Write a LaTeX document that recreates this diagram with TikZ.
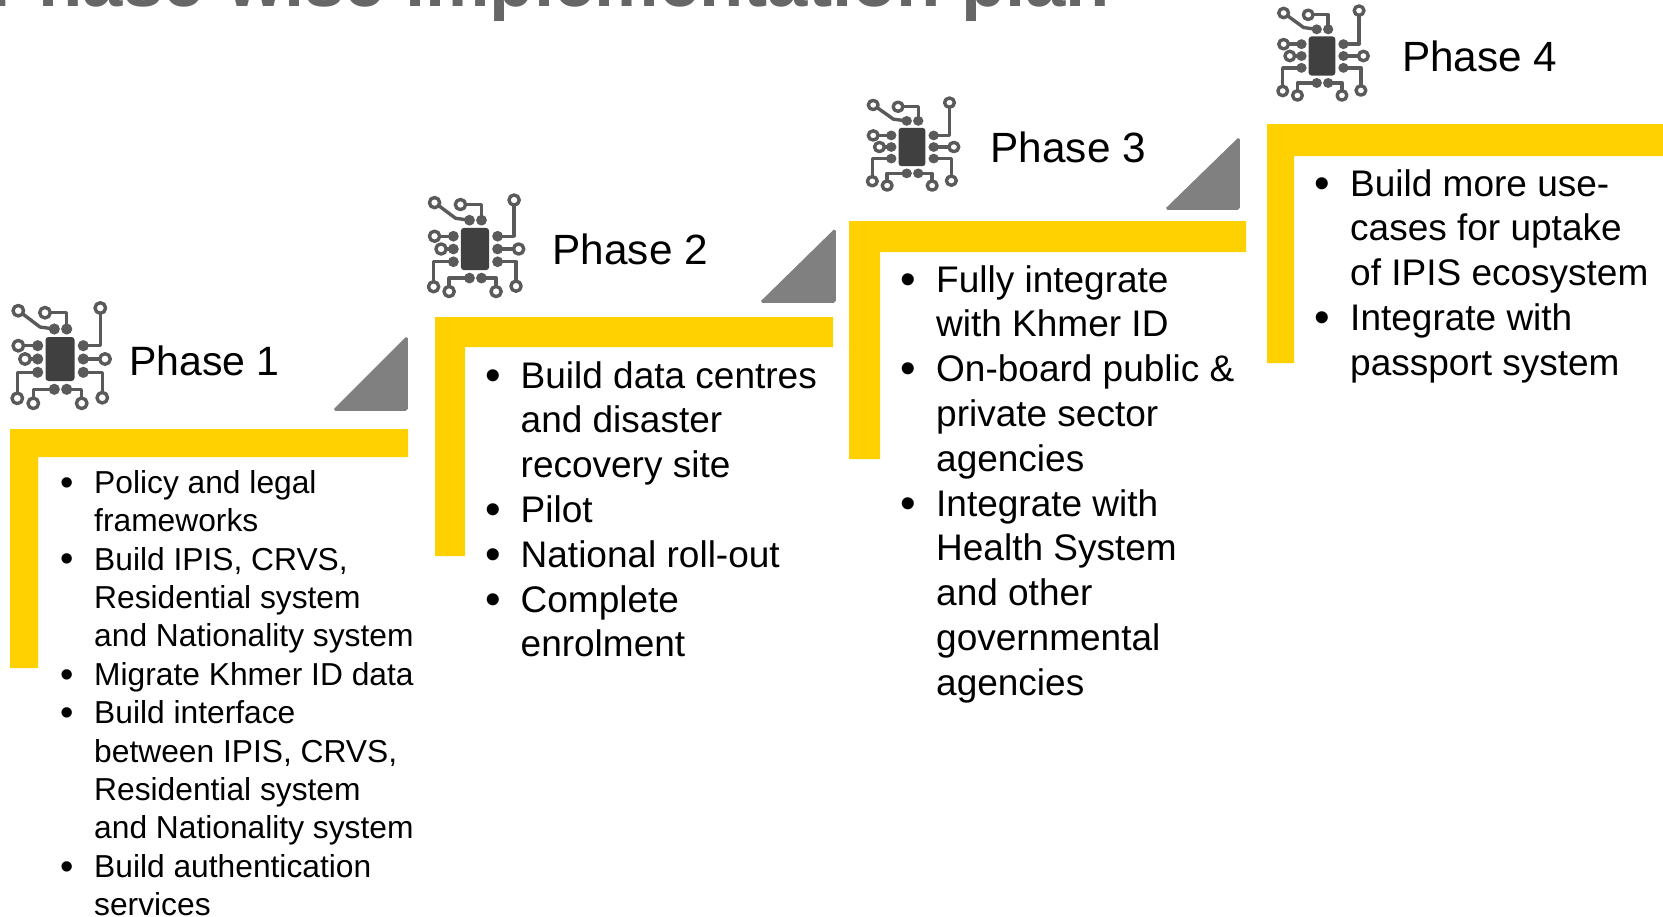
\documentclass[tikz,border=0pt]{standalone}
\usepackage{fontspec}
\setmainfont{Liberation Sans}
\definecolor{phaseyellow}{HTML}{FFD100}
\definecolor{wedgegrey}{HTML}{808080}
\definecolor{chipgrey}{HTML}{404040}
\definecolor{tracegrey}{HTML}{5A5A5A}
\definecolor{titlegrey}{HTML}{666666}
\newcommand{\bulletmark}{\llap{\raisebox{-.06em}{\scalebox{1.2}{\textbullet}}\hspace{20pt}}}
\tikzset{
	phasebar/.style={fill=phaseyellow, draw=none},
	wedge/.style={fill=wedgegrey, draw=wedgegrey, line width=1.5pt, rounded corners=1.5pt},
	phaselabel/.style={anchor=west, inner sep=0pt, font=\fontsize{42.3}{42.3}\selectfont},
	smalllist/.style={anchor=north west, inner sep=0pt, align=left, font=\fontsize{31.75}{38.4}\selectfont},
	biglist/.style={anchor=north west, inner sep=0pt, align=left, font=\fontsize{37}{44.8}\selectfont},
	trace/.style={draw=tracegrey, line width=3.4pt, line join=round},
	chipicon/.pic={
		\fill[chipgrey, rounded corners=3pt] (-14.5,-22) rectangle (14.5,22);
		\draw[trace] (-37.8,-45.5) -- (-20,-32) -- (-5.7,-30);
		\draw[trace] (-10.5,-46.3) -- (6.7,-46.3) -- (6.7,-30);
		\draw[trace] (40.3,-46.5) -- (40.3,-13.3) -- (23.3,-13.3);
		\draw[trace] (-37.2,-13.3) -- (-22.3,-13.3);
		\draw[trace] (-30.5,0) -- (-22.3,0);
		\draw[trace] (40.5,0) -- (23.3,0);
		\draw[trace] (-22.3,13.3) -- (-42.7,13.3) -- (-42.7,34.8);
		\draw[trace] (23.3,13.3) -- (42.3,13.3) -- (42.3,34.2);
		\draw[trace] (-5.7,30.3) -- (-26.7,30.3) -- (-26.7,39.8);
		\draw[trace] (6.7,30.3) -- (21.7,30.3) -- (21.7,39.8);
		% pads on the chip side
		\foreach \px/\py in {-5.7/-30, 6.7/-30, 23.3/-13.3, -22.3/-13.3, -22.3/0, 23.3/0, -22.3/13.3, 23.3/13.3, -5.7/30.3, 6.7/30.3}
			\fill[tracegrey] (\px,\py) circle (5.6);
		% rings at the free ends
		\foreach \px/\py in {-41.7/-48.3, -15/-46.3, 40.3/-51, -41.7/-13.3, -35/0, 45/0, -42.7/39.3, 42.3/38.7, -26.7/44.3, 21.7/44.3}
			\draw[trace] (\px,\py) circle (5.3);
	}
}
\begin{document}
\begin{tikzpicture}[x=1pt, y=-1pt]
	\useasboundingbox (0,0) rectangle (1663,916);
	\clip (0,0) rectangle (1663,916);
	\node[anchor=base west, inner sep=0pt, text=titlegrey, font=\fontsize{72.5}{72.5}\selectfont\bfseries] (title) at (-10,6) {Phase-wise implementation plan};

	% phase 1
	\fill[phasebar] (10,429) -- (408,429) -- (408,457) -- (38,457) -- (38,668) -- (10,668) -- cycle;
	\fill[wedge] (334,410) -- (407,410) -- (407,337) -- cycle;
	\pic at (60,359) {chipicon};
	\node[phaselabel, font=\fontsize{41}{41}\selectfont] (phase1) at (129,361) {Phase 1};
	\node[smalllist] (list1) at (94,470) {\bulletmark Policy and legal\\frameworks\\\bulletmark Build IPIS, CRVS,\\Residential system\\and Nationality system\\\bulletmark Migrate Khmer ID data\\\bulletmark Build interface\\between IPIS, CRVS,\\Residential system\\and Nationality system\\\bulletmark Build authentication\\services};

	% phase 2
	\fill[phasebar] (435,317) -- (833,317) -- (833,347) -- (465,347) -- (465,556) -- (435,556) -- cycle;
	\fill[wedge] (761,302) -- (835,302) -- (835,229.5) -- cycle;
	\pic[xscale=.97, yscale=.96] at (475,249) {chipicon};
	\node[phaselabel] (phase2) at (552.5,249) {Phase 2};
	\node[biglist] (list2) at (520.5,361) {\bulletmark Build data centres\\and disaster\\recovery site\\\bulletmark Pilot\\\bulletmark National roll-out\\\bulletmark Complete\\enrolment};

	% phase 3
	\fill[phasebar] (849,221) -- (1246,221) -- (1246,252) -- (880,252) -- (880,459) -- (849,459) -- cycle;
	\fill[wedge] (1166,209) -- (1239,209) -- (1239,138) -- cycle;
	\pic[xscale=.93, yscale=.87] at (912,147) {chipicon};
	\node[phaselabel] (phase3) at (990.5,147) {Phase 3};
	\node[biglist] (list3) at (936,265) {\bulletmark Fully integrate\\with Khmer ID\\\bulletmark On-board public \&\\private sector\\agencies\\\bulletmark Integrate with\\Health System\\and other\\governmental\\agencies};

	% phase 4
	\fill[phasebar] (1267,124) -- (1663,124) -- (1663,156) -- (1294,156) -- (1294,363) -- (1267,363) -- cycle;
	\pic[xscale=.92, yscale=.89] at (1322,56) {chipicon};
	\node[phaselabel] (phase4) at (1402,56) {Phase 4};
	\node[biglist] (list4) at (1350,169) {\bulletmark Build more use-\\cases for uptake\\of IPIS ecosystem\\\bulletmark Integrate with\\passport system};
\end{tikzpicture}
\end{document}
